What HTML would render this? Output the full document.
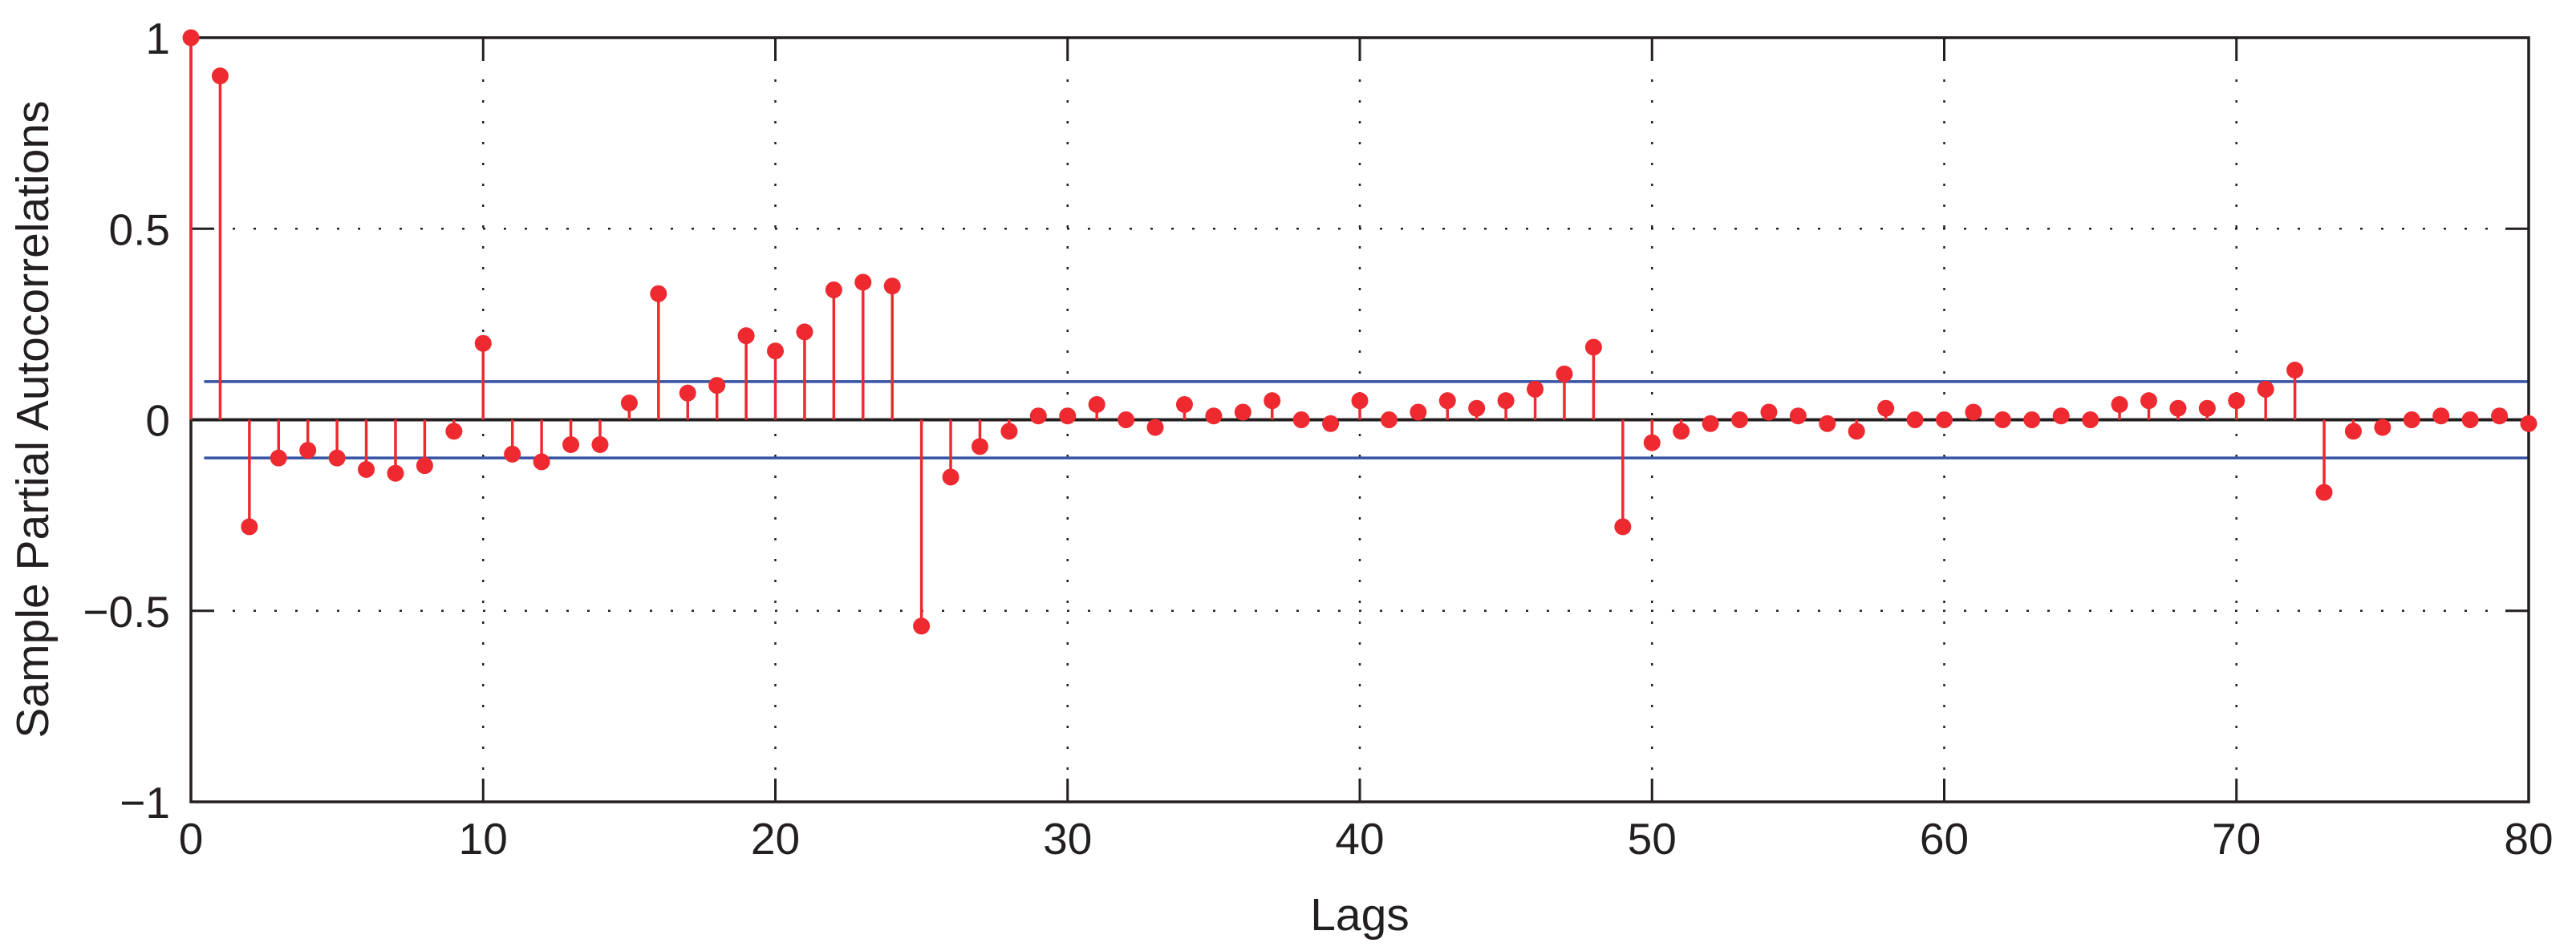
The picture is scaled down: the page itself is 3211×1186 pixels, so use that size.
<!DOCTYPE html>
<html><head><meta charset="utf-8"><style>
html,body{margin:0;padding:0;background:#fff;}
svg{display:block;font-family:"Liberation Sans",Arial,sans-serif;}
</style></head><body>
<svg id="chart" width="3211" height="1186" viewBox="0 0 3211 1186" xmlns="http://www.w3.org/2000/svg">
<rect width="3211" height="1186" fill="#fff"/>
<g id="grid"></g>
<g id="bounds"></g>
<g id="axes"></g>
<g id="stems"></g>
<text x="0" y="0" transform="translate(60,523) rotate(-90)" text-anchor="middle" font-size="57" fill="#231f20">Sample Partial Autocorrelations</text>
<text x="1695" y="1160" text-anchor="middle" font-size="57" fill="#231f20">Lags</text>
</svg>
<script>
const lags = [];
for (let i = 0; i <= 80; i++) lags.push(i);
const pacfValues = [1.00,0.90,-0.28,-0.10,-0.08,-0.10,-0.13,-0.14,-0.12,-0.03,
0.20,-0.09,-0.11,-0.065,-0.065,0.044,0.33,0.07,0.09,0.22,
0.18,0.23,0.34,0.36,0.35,-0.54,-0.15,-0.07,-0.03,0.01,
0.01,0.04,0.00,-0.02,0.04,0.01,0.02,0.05,0.00,-0.01,
0.05,0.00,0.02,0.05,0.03,0.05,0.08,0.12,0.19,-0.28,
-0.06,-0.03,-0.01,0.00,0.02,0.01,-0.01,-0.03,0.03,0.00,
0.00,0.02,0.00,0.00,0.01,0.00,0.04,0.05,0.03,0.03,
0.05,0.08,0.13,-0.19,-0.03,-0.02,0.00,0.01,0.00,0.01,-0.01];
const boundValue = 0.1;
const xTicks = [0,10,20,30,40,50,60,70,80];
const xTickLabels = ["0","10","20","30","40","50","60","70","80"];
const yTicks = [-1,-0.5,0,0.5,1];
const yTickLabels = ["\u22121","\u22120.5","0","0.5","1"];

const L=238, R=3152, T=47, B=1000;
const xS = v => L + (v-0)/(80-0)*(R-L);
const yS = v => B - (v-(-1))/(2)*(B-T);
const NS="http://www.w3.org/2000/svg";
function mk(tag, attrs, parent){const e=document.createElementNS(NS,tag);for(const k in attrs)e.setAttribute(k,attrs[k]);parent.appendChild(e);return e;}
const grid=document.getElementById('grid'), axes=document.getElementById('axes'), stems=document.getElementById('stems'), bounds=document.getElementById('bounds');

xTicks.forEach((t,i)=>{
  const x=xS(t);
  if(t>0&&t<80){
    const g=mk('line',{x1:x,x2:x,y1:T,y2:B,stroke:'#231f20','stroke-width':2.5,'stroke-dasharray':'3 23'},grid);
    
    
  }
  const tk=mk('path',{d:`M${x},${B}V${B-29}M${x},${T}V${T+29}`,stroke:'#231f20','stroke-width':3,fill:'none'},axes);
  
  
  const lb=mk('text',{x:x,y:1065,'text-anchor':'middle','font-size':55,fill:'#231f20'},axes);
  lb.textContent=xTickLabels[i];
  
  
});
yTicks.forEach((t,i)=>{
  const y=yS(t);
  if(t===0.5||t===-0.5){
    const g=mk('line',{x1:L,x2:R,y1:y,y2:y,stroke:'#231f20','stroke-width':2.5,'stroke-dasharray':'3 23'},grid);
    
    
  }
  const tk=mk('path',{d:`M${L},${y}H${L+29}M${R},${y}H${R-29}`,stroke:'#231f20','stroke-width':3,fill:'none'},axes);
  
  
  const lb=mk('text',{x:212,y:y+20,'text-anchor':'end','font-size':55,fill:'#231f20'},axes);
  lb.textContent=yTickLabels[i];
  
  
});
const frame=mk('rect',{x:L,y:T,width:R-L,height:B-T,fill:'none',stroke:'#231f20','stroke-width':3.5},axes);


const zl=mk('line',{x1:L,x2:R,y1:yS(0),y2:yS(0),stroke:'#231f20','stroke-width':4},axes);



[boundValue,-boundValue].forEach(b=>{
  const l=mk('line',{x1:xS(0.45),x2:R,y1:yS(b),y2:yS(b),stroke:'#3653a4','stroke-width':3.5},bounds);
  
  
});

lags.forEach((lag,i)=>{
  const v=pacfValues[i], x=xS(lag);
  const s=mk('line',{x1:x,x2:x,y1:yS(0),y2:yS(v),stroke:'#ee2a30','stroke-width':3.5},stems);
  
  
  const c=mk('circle',{cx:x,cy:yS(v),r:10.5,fill:'#ee2a30'},stems);
  
  
});
</script>
</body></html>
